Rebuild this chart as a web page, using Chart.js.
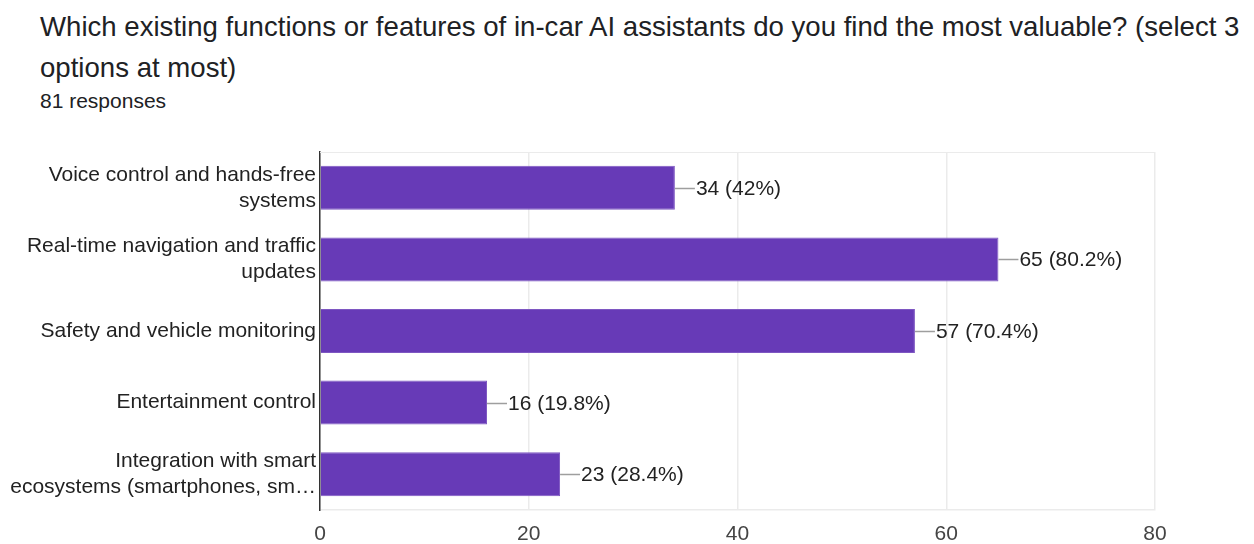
<!DOCTYPE html>
<html>
<head>
<meta charset="utf-8">
<script src="https://cdn.jsdelivr.net/npm/chart.js@4.4.0/dist/chart.umd.min.js"></script>
<style>
  html, body { margin: 0; padding: 0; background: #fff; }
  #wrap { position: relative; width: 1254px; height: 544px; overflow: hidden; }
  #title {
    position: absolute; left: 40px; top: 6px; width: 1214px;
    font-family: "Liberation Sans", Arial, sans-serif; font-size: 27.6px;
    line-height: 41px; color: #202124; white-space: nowrap;
  }
  #count {
    position: absolute; left: 40px; top: 89px;
    font-family: "Liberation Sans", Arial, sans-serif; font-size: 21px; color: #202124;
  }
  canvas { position: absolute; left: 0; top: 0; }
</style>
</head>
<body>
<div id="wrap">
  <div id="title">Which existing functions or features of in-car AI assistants do you find the most valuable? (select 3<br>options at most)</div>
  <div id="count">81 responses</div>
  <canvas id="chart" width="1254" height="544"></canvas>
</div>
<script>
// survey answers
const options = [
  ["Voice control and hands-free", "systems"],
  ["Real-time navigation and traffic", "updates"],
  "Safety and vehicle monitoring",
  "Entertainment control",
  ["Integration with smart", "ecosystems (smartphones, sm…"]
];
const votes = [34, 65, 57, 16, 23];
const totalResponses = 81;
const xTicks = [0, 20, 40, 60, 80];

const FONT = "'Liberation Sans', Arial, sans-serif";

function pct(v) {
  const p = Math.round(v / totalResponses * 1000) / 10;
  return (p % 1 === 0 ? p.toFixed(0) : p.toFixed(1)) + "%";
}

// leader line + "n (p%)" next to every bar, plus the top frame edge
const barLabels = {
  id: "barLabels",
  afterDatasetsDraw(chart) {
    const ctx = chart.ctx;
    const area = chart.chartArea;
    ctx.save();
    ctx.strokeStyle = "#ebebeb";
    ctx.lineWidth = 1;
    ctx.beginPath();
    ctx.moveTo(area.left, area.top + 0.5);
    ctx.lineTo(area.right, area.top + 0.5);
    ctx.stroke();

    const meta = chart.getDatasetMeta(0);
    meta.data.forEach((bar, i) => {
      const v = votes[i];
      const x = bar.x, y = Math.round(bar.y) + 0.5;
      ctx.strokeStyle = "#9e9e9e";
      ctx.lineWidth = 1.5;
      ctx.beginPath();
      ctx.moveTo(x, y);
      ctx.lineTo(x + 20, y);
      ctx.stroke();
      ctx.fillStyle = "#222";
      ctx.font = "21px " + FONT;
      ctx.textAlign = "left";
      ctx.textBaseline = "middle";
      ctx.fillText(v + " (" + pct(v) + ")", x + 21, y + 1);
    });
    ctx.restore();
  }
};

new Chart(document.getElementById("chart"), {
  type: "bar",
  data: {
    labels: options,
    datasets: [{
      data: votes,
      backgroundColor: "#673ab7",
      borderColor: "#7e57c2",
      borderWidth: 1,
      borderSkipped: "left",
      categoryPercentage: 1,
      barPercentage: 0.615
    }]
  },
  options: {
    indexAxis: "y",
    responsive: false,
    animation: false,
    layout: { padding: { top: 152, right: 99, left: 0, bottom: 0 } },
    plugins: {
      legend: { display: false },
      tooltip: { enabled: false },
      title: { display: false }
    },
    scales: {
      x: {
        min: 0,
        max: 80,
        afterBuildTicks: (scale) => { scale.ticks = xTicks.map(v => ({ value: v })); },
        afterFit: (scale) => { scale.height = 34; },
        grid: { color: "#ebebeb", drawTicks: false, lineWidth: 1.5 },
        border: { color: "#ebebeb", width: 1.5 },
        ticks: { padding: 12, color: "#444", font: { family: FONT, size: 21 } }
      },
      y: {
        afterFit: (scale) => { scale.width = 320; },
        grid: { display: false, drawTicks: false },
        border: { color: "#333", width: 1.5 },
        ticks: {
          padding: 4,
          color: "#222",
          font: { family: FONT, size: 21, lineHeight: 1.24 }
        }
      }
    }
  },
  plugins: [barLabels]
});
</script>
</body>
</html>
